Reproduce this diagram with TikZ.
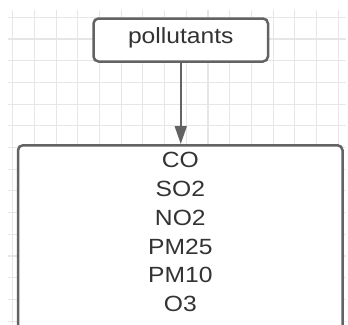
\documentclass[tikz,border=0pt]{standalone}
\usepackage{graphicx}
\usepackage{fontspec}
\setmainfont{Liberation Sans}
\usetikzlibrary{arrows.meta}
\definecolor{edge}{HTML}{636363}
\definecolor{gridline}{HTML}{E6E6E6}
\definecolor{ink}{HTML}{333333}
\begin{document}
\begin{tikzpicture}[x=1pt,y=-1pt,
  box/.style={draw=edge, line width=2.5pt, rounded corners=5pt, fill=white, inner sep=0pt},
  txt/.style={font=\fontsize{22}{26}\selectfont, text=ink},
  item/.style={txt, inner sep=0pt, anchor=base},
  link/.style={draw=edge, line width=1.6pt, -{Triangle[length=18pt,width=12pt]}},
]
\useasboundingbox (0,0) rectangle (348,324);
% background grid
\foreach \k in {0,...,15}
  \draw[gridline, line width=1.1pt] ({12.7+21.7*\k},10) -- ({12.7+21.7*\k},324);
\foreach \k in {0,...,14}
  \draw[gridline, line width=1.1pt] (8,{17.3+21.7*\k}) -- (346,{17.3+21.7*\k});

% source box
\node[box, txt, minimum width=174.5pt, minimum height=43pt,
      text height=16pt, text depth=8.6pt] (src) at (180.75,40)
      {\scalebox{1.12}[1]{pollutants}};

% target box (runs past the lower edge)
\node[box, minimum width=324.5pt, minimum height=210pt, anchor=north] (dst) at (180.25,144) {};

% list of pollutants
\foreach \t [count=\i from 0] in {CO,SO2,NO2,PM25,PM10,O3}
  \node[item] (item\i) at (180.3,{167.7+28.8*\i}) {\scalebox{1.12}[1]{\t}};

% connector
\draw[link] (src.south) -- (src.south |- dst.north);
\end{tikzpicture}
\end{document}
